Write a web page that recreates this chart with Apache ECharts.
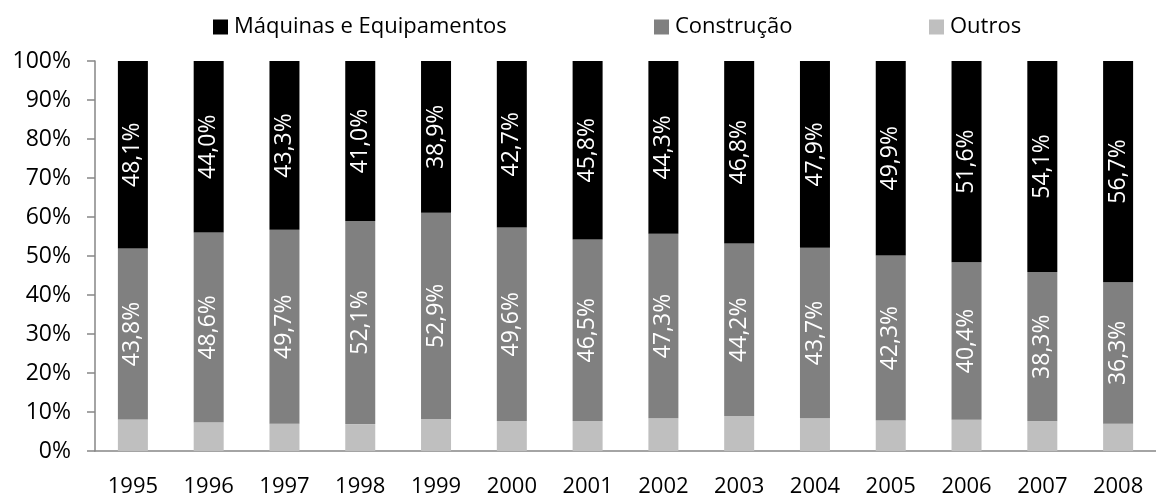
<!DOCTYPE html>
<html>
<head>
<meta charset="utf-8">
<script src="https://cdn.jsdelivr.net/npm/echarts@6/dist/echarts.min.js"></script>
<style>
  html, body { margin: 0; padding: 0; background: #fff; }
  #chart { width: 1156px; height: 498px; }
</style>
</head>
<body>
<div id="chart"></div>
<script>
  // anos
  var anos = ['1995', '1996', '1997', '1998', '1999', '2000', '2001', '2002', '2003', '2004', '2005', '2006', '2007', '2008']
  // participação (%) de cada componente
  var maquinas = [48.1, 44.0, 43.3, 41.0, 38.9, 42.7, 45.8, 44.3, 46.8, 47.9, 49.9, 51.6, 54.1, 56.7]
  var construcao = [43.8, 48.6, 49.7, 52.1, 52.9, 49.6, 46.5, 47.3, 44.2, 43.7, 42.3, 40.4, 38.3, 36.3]
  var outros = [8.1, 7.4, 7.0, 6.9, 8.2, 7.7, 7.7, 8.4, 9.0, 8.4, 7.8, 8.0, 7.6, 7.0]

  var fonte = 'Open Sans'
  var chart = echarts.init(document.getElementById('chart'))

  // rótulo vertical branco no meio da barra
  function rotulo() {
    return {
      show: true,
      position: 'inside',
      rotate: 90,
      color: '#fff',
      fontFamily: fonte,
      fontSize: 23,
      formatter: function (p) {
        return p.value.toFixed(1).replace('.', ',') + '%'
      },
    }
  }

  function legenda(nome, left) {
    return {
      data: [nome],
      left: left,
      top: 11,
      itemWidth: 15,
      itemHeight: 15,
      icon: 'rect',
      itemGap: 0,
      textStyle: { fontFamily: fonte, fontSize: 22, color: '#000', padding: [0, 0, 0, 1] },
    }
  }

  var option = {
    animation: false,
    legend: [
      legenda('Máquinas e Equipamentos', 208),
      legenda('Construção', 649),
      legenda('Outros', 924),
    ],
    grid: { left: 95, top: 61, width: 1072, height: 392 },
    xAxis: {
      type: 'category',
      data: anos,
      axisLine: { lineStyle: { color: '#868686', width: 1.5 } },
      axisTick: { length: 9, lineStyle: { color: '#868686', width: 1.5 } },
      axisLabel: { color: '#000', fontFamily: fonte, fontSize: 22, margin: 25 },
    },
    yAxis: {
      type: 'value',
      min: 0,
      max: 100,
      interval: 10,
      splitLine: { show: false },
      axisLine: { show: true, lineStyle: { color: '#868686', width: 1.5 } },
      axisTick: { show: true, length: 8, lineStyle: { color: '#868686', width: 1.5 } },
      axisLabel: { color: '#000', fontFamily: fonte, fontSize: 23, margin: 24, formatter: '{value}%' },
    },
    series: [
      {
        name: 'Outros',
        type: 'bar',
        stack: 'total',
        barWidth: 30,
        itemStyle: { color: '#bfbfbf' },
        data: outros,
      },
      {
        name: 'Construção',
        type: 'bar',
        stack: 'total',
        barWidth: 30,
        itemStyle: { color: '#808080' },
        label: rotulo(),
        data: construcao,
      },
      {
        name: 'Máquinas e Equipamentos',
        type: 'bar',
        stack: 'total',
        barWidth: 30,
        itemStyle: { color: '#000000' },
        label: rotulo(),
        data: maquinas,
      },
    ],
  }
  chart.setOption(option)
</script>
</body>
</html>
